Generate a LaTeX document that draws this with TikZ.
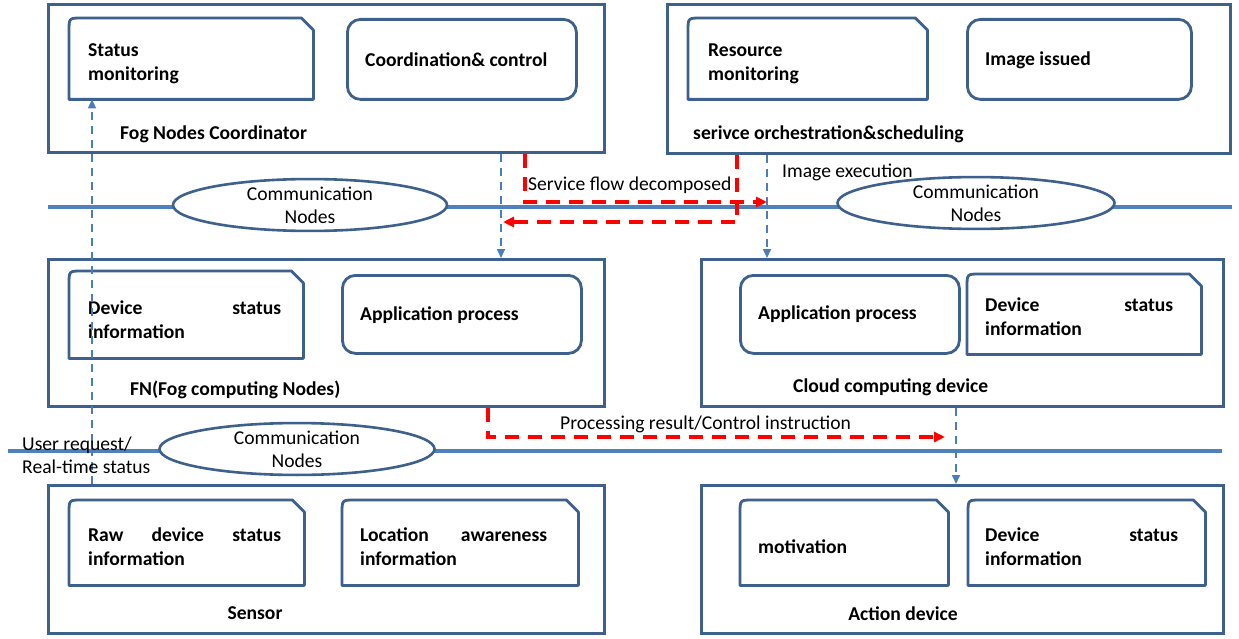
\documentclass[tikz,border=0pt]{standalone}
\usepackage{fontspec}
\setmainfont{Carlito}
\usetikzlibrary{shapes.geometric,arrows.meta}
\definecolor{boxc}{RGB}{62,96,140}
\definecolor{linec}{RGB}{79,129,189}
\definecolor{arrc}{RGB}{74,126,187}
\definecolor{redc}{RGB}{255,0,0}
\newcommand\bfnt{\fontsize{19.6}{24}\selectfont\bfseries}
\newcommand\rfnt{\fontsize{19.6}{23}\selectfont}
\newcommand\snipdraw[1]{\draw[innerline] (#1.south west) -- ([yshift=-13pt]#1.north west) .. controls (#1.north west) .. ([xshift=13pt]#1.north west) -- ([xshift=-12pt]#1.north east) -- ([yshift=-12pt]#1.north east) -- (#1.south east) -- cycle;}
\tikzset{
  outerbox/.style={draw=boxc, line width=2.6pt, inner sep=0, anchor=north west},
  innerline/.style={draw=boxc, line width=2.8pt, line join=round},
  snipbox/.style={inner sep=0, anchor=north west},
  roundbox/.style={draw=boxc, line width=2.8pt, rounded corners=13pt, inner sep=0, anchor=north west},
  commline/.style={draw=linec, line width=4.5pt},
  commnode/.style={ellipse, draw=boxc, line width=2.6pt, fill=white, inner sep=0, align=center, font=\rfnt},
  bt/.style={font=\bfnt, inner sep=0, anchor=west, align=left},
  rt/.style={font=\rfnt, inner sep=0, anchor=west, align=left},
  bluearrow/.style={draw=arrc, line width=1.7pt, dash pattern=on 8pt off 6pt, -{Triangle[length=9pt,width=8pt]}},
  redarrow/.style={draw=redc, line width=3.2pt, dash pattern=on 14pt off 9pt, -{Triangle[length=11pt,width=10pt]}}
}
\begin{document}
\begin{tikzpicture}[x=1pt,y=-1pt]
\useasboundingbox (0,0) rectangle (1239,639);
\fill[white] (0,0) rectangle (1239,639);
% communication lines
\coordinate (l1a) at (48,207); \coordinate (l1b) at (1232,207);
\coordinate (l2a) at (8,451); \coordinate (l2b) at (1222,451);
\draw[commline] (l1a) -- (l1b);
\draw[commline] (l2a) -- (l2b);
\node[commnode, minimum width=274pt, minimum height=44pt] (E1) at (310,205) {Communication\\Nodes};
\node[commnode, minimum width=277pt, minimum height=44pt] (E2) at (976,203) {Communication\\Nodes};
\node[commnode, minimum width=275pt, minimum height=46pt] (E3) at (297,449) {Communication\\Nodes};
% outer boxes
\node[outerbox, minimum width=556pt, minimum height=148pt] (A) at (47,3) {};
\node[outerbox, minimum width=563pt, minimum height=149pt] (B) at (666,3) {};
\node[outerbox, minimum width=556pt, minimum height=147pt] (FN) at (47,258) {};
\node[outerbox, minimum width=522pt, minimum height=147pt] (CL) at (700,258) {};
\node[outerbox, minimum width=556pt, minimum height=148pt] (SE) at (47,484) {};
\node[outerbox, minimum width=522pt, minimum height=148pt] (AC) at (700,484) {};
% inner boxes
\node[snipbox, minimum width=244pt, minimum height=81pt] (A1) at (69,18) {}; \snipdraw{A1}
\node[roundbox, minimum width=229pt, minimum height=80pt] (A2) at (346,18) {};
\node[snipbox, minimum width=239pt, minimum height=81pt] (B1) at (688,18) {}; \snipdraw{B1}
\node[roundbox, minimum width=224pt, minimum height=80pt] (B2) at (966,18) {};
\node[snipbox, minimum width=234pt, minimum height=87pt] (F1) at (69,271) {}; \snipdraw{F1}
\node[roundbox, minimum width=239pt, minimum height=78pt] (F2) at (341,274) {};
\node[roundbox, minimum width=219pt, minimum height=78pt] (C1) at (739,274) {};
\node[snipbox, minimum width=234pt, minimum height=80pt] (C2) at (967,274) {}; \snipdraw{C2}
\node[snipbox, minimum width=235pt, minimum height=85pt] (S1) at (69,500) {}; \snipdraw{S1}
\node[snipbox, minimum width=236pt, minimum height=85pt] (S2) at (342,500) {}; \snipdraw{S2}
\node[snipbox, minimum width=208pt, minimum height=85pt] (D1) at (740,500) {}; \snipdraw{D1}
\node[snipbox, minimum width=237pt, minimum height=85pt] (D2) at (968,500) {}; \snipdraw{D2}
% texts in boxes
\node[bt] (tA1) at (88,64) {Status\\monitoring};
\node[bt] (tA2) at (365,60) {Coordination\& control};
\node[bt] (tB1) at (708,64) {Resource\\monitoring};
\node[bt] (tB2) at (985,60) {Image issued};
\node[bt] (tF1) at (88,319.5) {\parbox{193pt}{Device\hfill status\\information}};
\node[bt] (tC1) at (758,314.5) {Application process};
\node[bt] (tF2) at (360,315.5) {Application process};
\node[bt] (tC2) at (985,316.5) {\parbox{188pt}{Device\hfill status\\information}};
\node[bt] (tS1) at (88,547) {\parbox{193pt}{Raw\hfill device\hfill status\\information}};
\node[bt] (tS2) at (360,547) {\parbox{187pt}{Location\hfill awareness\\information}};
\node[bt] (tD1) at (758,546.5) {motivation};
\node[bt] (tD2) at (985,547) {\parbox{193pt}{Device\hfill status\\information}};
% box captions
\node[bt] (cA) at (120,134.5) {Fog Nodes Coordinator};
\node[bt] (cB) at (693,134.5) {serivce orchestration\&scheduling};
\node[bt] (cF) at (130,389.5) {FN(Fog computing Nodes)};
\node[bt] (cC) at (793,387.5) {Cloud computing device};
\node[bt, anchor=center] (cS) at (255,613.5) {Sensor};
\node[bt, anchor=center] (cD) at (903,613.5) {Action device};
% connectors
\coordinate (xu) at (92,0);
\coordinate (xd1) at (501,0);
\coordinate (xd2) at (767,0);
\coordinate (xd3) at (956,0);
\coordinate (xr1) at (525,0);
\coordinate (xr2) at (737,0);
\coordinate (xr3) at (488,0);
\coordinate (hr1) at (0,202);
\coordinate (hr2) at (0,222);
\coordinate (hr3) at (0,437);
\coordinate (er2) at (503,0);
\coordinate (er3) at (945,0);
\draw[bluearrow] (xu |- SE.north) -- (xu |- A1.south);
\draw[bluearrow] (xd1 |- A.south) -- (xd1 |- FN.north);
\draw[bluearrow] (xd2 |- B.south) -- (xd2 |- CL.north);
\draw[bluearrow] (xd3 |- CL.south) -- (xd3 |- AC.north);
\draw[redarrow] (xr1 |- A.south) -- (xr1 |- hr1) -- (xd2 |- hr1);
\draw[redarrow] (xr2 |- B.south) -- (xr2 |- hr2) -- (er2 |- hr2);
\draw[redarrow] (xr3 |- FN.south) -- (xr3 |- hr3) -- (er3 |- hr3);
% connector labels
\node[rt] (lsf) at (528,185.5) {Service flow decomposed};
\node[rt] (lie) at (782,172.5) {Image execution};
\node[rt] (lpr) at (560,424.5) {Processing result/Control instruction};
\node[rt] (lur) at (22,455) {User request/\\Real-time status};
\end{tikzpicture}
\end{document}
